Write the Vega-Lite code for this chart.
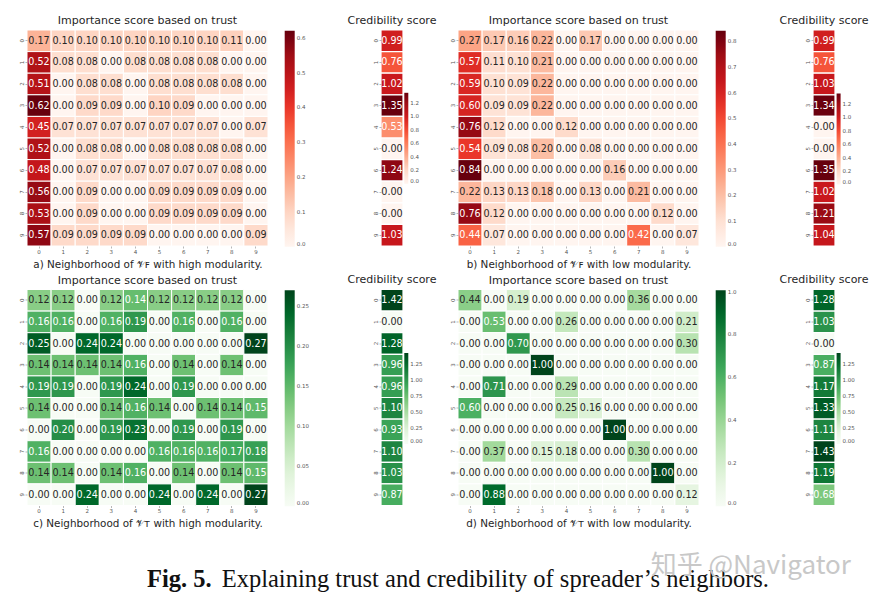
{
"$schema": "https://vega.github.io/schema/vega-lite/v6.json",
"background": "white",
"padding": {"left": 19, "top": 14, "right": 4, "bottom": 4},
"bounds": "flush",
"columns": 7,
"spacing": {"row": 43.5, "column": 0},
"config": {
  "view": {"stroke": null},
  "font": "DejaVu Sans",
  "scale": {"bandPaddingInner": 0, "bandPaddingOuter": 0, "rectBandPaddingInner": 0},
  "axis": {"domain": false, "grid": false, "tickSize": 2, "tickColor": "#888", "tickWidth": 0.6, "labelFontSize": 5.5, "labelColor": "#555", "labelPadding": 1, "labelFont": "DejaVu Sans", "titleFont": "DejaVu Sans", "titleFontSize": 10.4, "titleFontWeight": "normal", "titleColor": "#262626", "titlePadding": 4.5},
  "legend": {"labelFontSize": 5.5, "labelColor": "#555", "labelFont": "DejaVu Sans", "gradientStrokeWidth": 0, "labelOffset": 3, "labelOverlap": false},
  "title": {"font": "DejaVu Sans", "fontSize": 11, "fontWeight": "normal", "color": "#262626", "offset": 3.5},
  "text": {"font": "DejaVu Sans", "fontSize": 9.6}
},
"datasets": {
"a": [
{"r":0,"c":0,"v":0.17},{"r":0,"c":1,"v":0.10},{"r":0,"c":2,"v":0.10},{"r":0,"c":3,"v":0.10},{"r":0,"c":4,"v":0.10},{"r":0,"c":5,"v":0.10},{"r":0,"c":6,"v":0.10},{"r":0,"c":7,"v":0.10},{"r":0,"c":8,"v":0.11},{"r":0,"c":9,"v":0.00},
{"r":1,"c":0,"v":0.52},{"r":1,"c":1,"v":0.08},{"r":1,"c":2,"v":0.08},{"r":1,"c":3,"v":0.00},{"r":1,"c":4,"v":0.08},{"r":1,"c":5,"v":0.08},{"r":1,"c":6,"v":0.08},{"r":1,"c":7,"v":0.08},{"r":1,"c":8,"v":0.00},{"r":1,"c":9,"v":0.00},
{"r":2,"c":0,"v":0.51},{"r":2,"c":1,"v":0.00},{"r":2,"c":2,"v":0.08},{"r":2,"c":3,"v":0.08},{"r":2,"c":4,"v":0.00},{"r":2,"c":5,"v":0.08},{"r":2,"c":6,"v":0.08},{"r":2,"c":7,"v":0.08},{"r":2,"c":8,"v":0.08},{"r":2,"c":9,"v":0.00},
{"r":3,"c":0,"v":0.62},{"r":3,"c":1,"v":0.00},{"r":3,"c":2,"v":0.09},{"r":3,"c":3,"v":0.09},{"r":3,"c":4,"v":0.00},{"r":3,"c":5,"v":0.10},{"r":3,"c":6,"v":0.09},{"r":3,"c":7,"v":0.00},{"r":3,"c":8,"v":0.00},{"r":3,"c":9,"v":0.00},
{"r":4,"c":0,"v":0.45},{"r":4,"c":1,"v":0.07},{"r":4,"c":2,"v":0.07},{"r":4,"c":3,"v":0.07},{"r":4,"c":4,"v":0.07},{"r":4,"c":5,"v":0.07},{"r":4,"c":6,"v":0.07},{"r":4,"c":7,"v":0.07},{"r":4,"c":8,"v":0.00},{"r":4,"c":9,"v":0.07},
{"r":5,"c":0,"v":0.52},{"r":5,"c":1,"v":0.00},{"r":5,"c":2,"v":0.08},{"r":5,"c":3,"v":0.08},{"r":5,"c":4,"v":0.00},{"r":5,"c":5,"v":0.08},{"r":5,"c":6,"v":0.08},{"r":5,"c":7,"v":0.08},{"r":5,"c":8,"v":0.08},{"r":5,"c":9,"v":0.00},
{"r":6,"c":0,"v":0.48},{"r":6,"c":1,"v":0.00},{"r":6,"c":2,"v":0.07},{"r":6,"c":3,"v":0.07},{"r":6,"c":4,"v":0.07},{"r":6,"c":5,"v":0.07},{"r":6,"c":6,"v":0.07},{"r":6,"c":7,"v":0.07},{"r":6,"c":8,"v":0.08},{"r":6,"c":9,"v":0.00},
{"r":7,"c":0,"v":0.56},{"r":7,"c":1,"v":0.00},{"r":7,"c":2,"v":0.09},{"r":7,"c":3,"v":0.00},{"r":7,"c":4,"v":0.00},{"r":7,"c":5,"v":0.09},{"r":7,"c":6,"v":0.09},{"r":7,"c":7,"v":0.09},{"r":7,"c":8,"v":0.09},{"r":7,"c":9,"v":0.00},
{"r":8,"c":0,"v":0.53},{"r":8,"c":1,"v":0.00},{"r":8,"c":2,"v":0.09},{"r":8,"c":3,"v":0.00},{"r":8,"c":4,"v":0.00},{"r":8,"c":5,"v":0.09},{"r":8,"c":6,"v":0.09},{"r":8,"c":7,"v":0.09},{"r":8,"c":8,"v":0.09},{"r":8,"c":9,"v":0.00},
{"r":9,"c":0,"v":0.57},{"r":9,"c":1,"v":0.09},{"r":9,"c":2,"v":0.09},{"r":9,"c":3,"v":0.09},{"r":9,"c":4,"v":0.09},{"r":9,"c":5,"v":0.00},{"r":9,"c":6,"v":0.00},{"r":9,"c":7,"v":0.00},{"r":9,"c":8,"v":0.00},{"r":9,"c":9,"v":0.09}
],
"ca": [
{"r":0,"v":0.99},{"r":1,"v":0.76},{"r":2,"v":1.02},{"r":3,"v":1.35},{"r":4,"v":0.53},{"r":5,"v":0.00},{"r":6,"v":1.24},{"r":7,"v":0.00},{"r":8,"v":0.00},{"r":9,"v":1.03}
],
"b": [
{"r":0,"c":0,"v":0.27},{"r":0,"c":1,"v":0.17},{"r":0,"c":2,"v":0.16},{"r":0,"c":3,"v":0.22},{"r":0,"c":4,"v":0.00},{"r":0,"c":5,"v":0.17},{"r":0,"c":6,"v":0.00},{"r":0,"c":7,"v":0.00},{"r":0,"c":8,"v":0.00},{"r":0,"c":9,"v":0.00},
{"r":1,"c":0,"v":0.57},{"r":1,"c":1,"v":0.11},{"r":1,"c":2,"v":0.10},{"r":1,"c":3,"v":0.21},{"r":1,"c":4,"v":0.00},{"r":1,"c":5,"v":0.00},{"r":1,"c":6,"v":0.00},{"r":1,"c":7,"v":0.00},{"r":1,"c":8,"v":0.00},{"r":1,"c":9,"v":0.00},
{"r":2,"c":0,"v":0.59},{"r":2,"c":1,"v":0.10},{"r":2,"c":2,"v":0.09},{"r":2,"c":3,"v":0.22},{"r":2,"c":4,"v":0.00},{"r":2,"c":5,"v":0.00},{"r":2,"c":6,"v":0.00},{"r":2,"c":7,"v":0.00},{"r":2,"c":8,"v":0.00},{"r":2,"c":9,"v":0.00},
{"r":3,"c":0,"v":0.60},{"r":3,"c":1,"v":0.09},{"r":3,"c":2,"v":0.09},{"r":3,"c":3,"v":0.22},{"r":3,"c":4,"v":0.00},{"r":3,"c":5,"v":0.00},{"r":3,"c":6,"v":0.00},{"r":3,"c":7,"v":0.00},{"r":3,"c":8,"v":0.00},{"r":3,"c":9,"v":0.00},
{"r":4,"c":0,"v":0.76},{"r":4,"c":1,"v":0.12},{"r":4,"c":2,"v":0.00},{"r":4,"c":3,"v":0.00},{"r":4,"c":4,"v":0.12},{"r":4,"c":5,"v":0.00},{"r":4,"c":6,"v":0.00},{"r":4,"c":7,"v":0.00},{"r":4,"c":8,"v":0.00},{"r":4,"c":9,"v":0.00},
{"r":5,"c":0,"v":0.54},{"r":5,"c":1,"v":0.09},{"r":5,"c":2,"v":0.08},{"r":5,"c":3,"v":0.20},{"r":5,"c":4,"v":0.00},{"r":5,"c":5,"v":0.08},{"r":5,"c":6,"v":0.00},{"r":5,"c":7,"v":0.00},{"r":5,"c":8,"v":0.00},{"r":5,"c":9,"v":0.00},
{"r":6,"c":0,"v":0.84},{"r":6,"c":1,"v":0.00},{"r":6,"c":2,"v":0.00},{"r":6,"c":3,"v":0.00},{"r":6,"c":4,"v":0.00},{"r":6,"c":5,"v":0.00},{"r":6,"c":6,"v":0.16},{"r":6,"c":7,"v":0.00},{"r":6,"c":8,"v":0.00},{"r":6,"c":9,"v":0.00},
{"r":7,"c":0,"v":0.22},{"r":7,"c":1,"v":0.13},{"r":7,"c":2,"v":0.13},{"r":7,"c":3,"v":0.18},{"r":7,"c":4,"v":0.00},{"r":7,"c":5,"v":0.13},{"r":7,"c":6,"v":0.00},{"r":7,"c":7,"v":0.21},{"r":7,"c":8,"v":0.00},{"r":7,"c":9,"v":0.00},
{"r":8,"c":0,"v":0.76},{"r":8,"c":1,"v":0.12},{"r":8,"c":2,"v":0.00},{"r":8,"c":3,"v":0.00},{"r":8,"c":4,"v":0.00},{"r":8,"c":5,"v":0.00},{"r":8,"c":6,"v":0.00},{"r":8,"c":7,"v":0.00},{"r":8,"c":8,"v":0.12},{"r":8,"c":9,"v":0.00},
{"r":9,"c":0,"v":0.44},{"r":9,"c":1,"v":0.07},{"r":9,"c":2,"v":0.00},{"r":9,"c":3,"v":0.00},{"r":9,"c":4,"v":0.00},{"r":9,"c":5,"v":0.00},{"r":9,"c":6,"v":0.00},{"r":9,"c":7,"v":0.42},{"r":9,"c":8,"v":0.00},{"r":9,"c":9,"v":0.07}
],
"cb": [
{"r":0,"v":0.99},{"r":1,"v":0.76},{"r":2,"v":1.03},{"r":3,"v":1.34},{"r":4,"v":0.00},{"r":5,"v":0.00},{"r":6,"v":1.35},{"r":7,"v":1.02},{"r":8,"v":1.21},{"r":9,"v":1.04}
],
"c": [
{"r":0,"c":0,"v":0.12},{"r":0,"c":1,"v":0.12},{"r":0,"c":2,"v":0.00},{"r":0,"c":3,"v":0.12},{"r":0,"c":4,"v":0.145},{"r":0,"c":5,"v":0.12},{"r":0,"c":6,"v":0.12},{"r":0,"c":7,"v":0.12},{"r":0,"c":8,"v":0.12},{"r":0,"c":9,"v":0.00},
{"r":1,"c":0,"v":0.16},{"r":1,"c":1,"v":0.16},{"r":1,"c":2,"v":0.00},{"r":1,"c":3,"v":0.16},{"r":1,"c":4,"v":0.19},{"r":1,"c":5,"v":0.00},{"r":1,"c":6,"v":0.16},{"r":1,"c":7,"v":0.00},{"r":1,"c":8,"v":0.16},{"r":1,"c":9,"v":0.00},
{"r":2,"c":0,"v":0.25},{"r":2,"c":1,"v":0.00},{"r":2,"c":2,"v":0.24},{"r":2,"c":3,"v":0.24},{"r":2,"c":4,"v":0.00},{"r":2,"c":5,"v":0.00},{"r":2,"c":6,"v":0.00},{"r":2,"c":7,"v":0.00},{"r":2,"c":8,"v":0.00},{"r":2,"c":9,"v":0.27},
{"r":3,"c":0,"v":0.14},{"r":3,"c":1,"v":0.14},{"r":3,"c":2,"v":0.14},{"r":3,"c":3,"v":0.14},{"r":3,"c":4,"v":0.16},{"r":3,"c":5,"v":0.00},{"r":3,"c":6,"v":0.14},{"r":3,"c":7,"v":0.00},{"r":3,"c":8,"v":0.14},{"r":3,"c":9,"v":0.00},
{"r":4,"c":0,"v":0.19},{"r":4,"c":1,"v":0.19},{"r":4,"c":2,"v":0.00},{"r":4,"c":3,"v":0.19},{"r":4,"c":4,"v":0.24},{"r":4,"c":5,"v":0.00},{"r":4,"c":6,"v":0.19},{"r":4,"c":7,"v":0.00},{"r":4,"c":8,"v":0.00},{"r":4,"c":9,"v":0.00},
{"r":5,"c":0,"v":0.14},{"r":5,"c":1,"v":0.00},{"r":5,"c":2,"v":0.00},{"r":5,"c":3,"v":0.14},{"r":5,"c":4,"v":0.16},{"r":5,"c":5,"v":0.14},{"r":5,"c":6,"v":0.00},{"r":5,"c":7,"v":0.14},{"r":5,"c":8,"v":0.14},{"r":5,"c":9,"v":0.15},
{"r":6,"c":0,"v":0.00},{"r":6,"c":1,"v":0.20},{"r":6,"c":2,"v":0.00},{"r":6,"c":3,"v":0.19},{"r":6,"c":4,"v":0.23},{"r":6,"c":5,"v":0.00},{"r":6,"c":6,"v":0.19},{"r":6,"c":7,"v":0.00},{"r":6,"c":8,"v":0.19},{"r":6,"c":9,"v":0.00},
{"r":7,"c":0,"v":0.16},{"r":7,"c":1,"v":0.00},{"r":7,"c":2,"v":0.00},{"r":7,"c":3,"v":0.00},{"r":7,"c":4,"v":0.00},{"r":7,"c":5,"v":0.16},{"r":7,"c":6,"v":0.16},{"r":7,"c":7,"v":0.16},{"r":7,"c":8,"v":0.17},{"r":7,"c":9,"v":0.18},
{"r":8,"c":0,"v":0.14},{"r":8,"c":1,"v":0.14},{"r":8,"c":2,"v":0.00},{"r":8,"c":3,"v":0.14},{"r":8,"c":4,"v":0.16},{"r":8,"c":5,"v":0.00},{"r":8,"c":6,"v":0.14},{"r":8,"c":7,"v":0.00},{"r":8,"c":8,"v":0.14},{"r":8,"c":9,"v":0.15},
{"r":9,"c":0,"v":0.00},{"r":9,"c":1,"v":0.00},{"r":9,"c":2,"v":0.24},{"r":9,"c":3,"v":0.00},{"r":9,"c":4,"v":0.00},{"r":9,"c":5,"v":0.24},{"r":9,"c":6,"v":0.00},{"r":9,"c":7,"v":0.24},{"r":9,"c":8,"v":0.00},{"r":9,"c":9,"v":0.27}
],
"cc": [
{"r":0,"v":1.42},{"r":1,"v":0.00},{"r":2,"v":1.28},{"r":3,"v":0.96},{"r":4,"v":0.96},{"r":5,"v":1.10},{"r":6,"v":0.93},{"r":7,"v":1.10},{"r":8,"v":1.03},{"r":9,"v":0.87}
],
"d": [
{"r":0,"c":0,"v":0.44},{"r":0,"c":1,"v":0.00},{"r":0,"c":2,"v":0.19},{"r":0,"c":3,"v":0.00},{"r":0,"c":4,"v":0.00},{"r":0,"c":5,"v":0.00},{"r":0,"c":6,"v":0.00},{"r":0,"c":7,"v":0.36},{"r":0,"c":8,"v":0.00},{"r":0,"c":9,"v":0.00},
{"r":1,"c":0,"v":0.00},{"r":1,"c":1,"v":0.53},{"r":1,"c":2,"v":0.00},{"r":1,"c":3,"v":0.00},{"r":1,"c":4,"v":0.26},{"r":1,"c":5,"v":0.00},{"r":1,"c":6,"v":0.00},{"r":1,"c":7,"v":0.00},{"r":1,"c":8,"v":0.00},{"r":1,"c":9,"v":0.21},
{"r":2,"c":0,"v":0.00},{"r":2,"c":1,"v":0.00},{"r":2,"c":2,"v":0.70},{"r":2,"c":3,"v":0.00},{"r":2,"c":4,"v":0.00},{"r":2,"c":5,"v":0.00},{"r":2,"c":6,"v":0.00},{"r":2,"c":7,"v":0.00},{"r":2,"c":8,"v":0.00},{"r":2,"c":9,"v":0.30},
{"r":3,"c":0,"v":0.00},{"r":3,"c":1,"v":0.00},{"r":3,"c":2,"v":0.00},{"r":3,"c":3,"v":1.00},{"r":3,"c":4,"v":0.00},{"r":3,"c":5,"v":0.00},{"r":3,"c":6,"v":0.00},{"r":3,"c":7,"v":0.00},{"r":3,"c":8,"v":0.00},{"r":3,"c":9,"v":0.00},
{"r":4,"c":0,"v":0.00},{"r":4,"c":1,"v":0.71},{"r":4,"c":2,"v":0.00},{"r":4,"c":3,"v":0.00},{"r":4,"c":4,"v":0.29},{"r":4,"c":5,"v":0.00},{"r":4,"c":6,"v":0.00},{"r":4,"c":7,"v":0.00},{"r":4,"c":8,"v":0.00},{"r":4,"c":9,"v":0.00},
{"r":5,"c":0,"v":0.60},{"r":5,"c":1,"v":0.00},{"r":5,"c":2,"v":0.00},{"r":5,"c":3,"v":0.00},{"r":5,"c":4,"v":0.25},{"r":5,"c":5,"v":0.16},{"r":5,"c":6,"v":0.00},{"r":5,"c":7,"v":0.00},{"r":5,"c":8,"v":0.00},{"r":5,"c":9,"v":0.00},
{"r":6,"c":0,"v":0.00},{"r":6,"c":1,"v":0.00},{"r":6,"c":2,"v":0.00},{"r":6,"c":3,"v":0.00},{"r":6,"c":4,"v":0.00},{"r":6,"c":5,"v":0.00},{"r":6,"c":6,"v":1.00},{"r":6,"c":7,"v":0.00},{"r":6,"c":8,"v":0.00},{"r":6,"c":9,"v":0.00},
{"r":7,"c":0,"v":0.00},{"r":7,"c":1,"v":0.37},{"r":7,"c":2,"v":0.00},{"r":7,"c":3,"v":0.15},{"r":7,"c":4,"v":0.18},{"r":7,"c":5,"v":0.00},{"r":7,"c":6,"v":0.00},{"r":7,"c":7,"v":0.30},{"r":7,"c":8,"v":0.00},{"r":7,"c":9,"v":0.00},
{"r":8,"c":0,"v":0.00},{"r":8,"c":1,"v":0.00},{"r":8,"c":2,"v":0.00},{"r":8,"c":3,"v":0.00},{"r":8,"c":4,"v":0.00},{"r":8,"c":5,"v":0.00},{"r":8,"c":6,"v":0.00},{"r":8,"c":7,"v":0.00},{"r":8,"c":8,"v":1.00},{"r":8,"c":9,"v":0.00},
{"r":9,"c":0,"v":0.00},{"r":9,"c":1,"v":0.88},{"r":9,"c":2,"v":0.00},{"r":9,"c":3,"v":0.00},{"r":9,"c":4,"v":0.00},{"r":9,"c":5,"v":0.00},{"r":9,"c":6,"v":0.00},{"r":9,"c":7,"v":0.00},{"r":9,"c":8,"v":0.00},{"r":9,"c":9,"v":0.12}
],
"cd": [
{"r":0,"v":1.28},{"r":1,"v":1.03},{"r":2,"v":0.00},{"r":3,"v":0.87},{"r":4,"v":1.17},{"r":5,"v":1.33},{"r":6,"v":1.11},{"r":7,"v":1.43},{"r":8,"v":1.19},{"r":9,"v":0.68}
]
},
"concat": [
   {"width": 241, "height": 216, "data": {"name": "a"}, "title": "Importance score based on trust",
    "encoding": {"x": {"field": "c", "type": "ordinal", "axis": {"title": "a) Neighborhood of 𝒱ꜰ with high modularity.", "labelAngle": 0}},
                 "y": {"field": "r", "type": "ordinal", "axis": {"title": null, "labelAngle": 270}}},
    "layer": [
     {"mark": {"type": "rect", "stroke": "white", "strokeWidth": 1},
      "encoding": {"color": {"field": "v", "type": "quantitative",
        "scale": {"domain": [0, 0.0775, 0.155, 0.2325, 0.31, 0.3875, 0.465, 0.5425, 0.62], "range": ["#fff5f0", "#fee0d2", "#fcbba1", "#fc9272", "#fb6a4a", "#ef3b2c", "#cb181d", "#a50f15", "#67000d"]},
        "legend": {"orient": "none", "legendX": 257.7, "legendY": 0.8, "direction": "vertical", "gradientLength": 216, "gradientThickness": 10, "title": null, "values": [0, 0.1, 0.2, 0.3, 0.4, 0.5, 0.6], "format": ".1f"}}}},
     {"mark": {"type": "text"},
      "encoding": {"text": {"field": "v", "type": "quantitative", "format": ".2f"},
        "color": {"condition": {"test": "datum.v >= 0.3", "value": "white"}, "value": "#262626"}}}
    ]},
   {"width": 112.4, "height": 216, "data": {"values": []}, "mark": "point"},
   {"width": 22, "height": 216, "data": {"name": "ca"}, "title": "Credibility score",
    "encoding": {"y": {"field": "r", "type": "ordinal", "axis": {"title": null, "labelAngle": 270}}},
    "layer": [
     {"mark": {"type": "rect", "stroke": "white", "strokeWidth": 1.2},
      "encoding": {"color": {"field": "v", "type": "quantitative",
        "scale": {"domain": [0, 0.16875, 0.3375, 0.50625, 0.675, 0.84375, 1.0125, 1.18125, 1.35], "range": ["#fff5f0", "#fee0d2", "#fcbba1", "#fc9272", "#fb6a4a", "#ef3b2c", "#cb181d", "#a50f15", "#67000d"]},
        "legend": {"orient": "none", "legendX": 23.3, "legendY": 62.8, "direction": "vertical", "gradientLength": 91, "gradientThickness": 4, "title": null, "values": [0, 0.2, 0.4, 0.6, 0.8, 1.0, 1.2], "format": ".1f"}}}},
     {"mark": {"type": "text"},
      "encoding": {"text": {"field": "v", "type": "quantitative", "format": ".2f"},
        "color": {"condition": {"test": "datum.v > 0.3", "value": "white"}, "value": "#262626"}}}
    ]},
   {"width": 54.6, "height": 216, "data": {"values": []}, "mark": "point"},
   {"width": 241, "height": 216, "data": {"name": "b"}, "title": "Importance score based on trust",
    "encoding": {"x": {"field": "c", "type": "ordinal", "axis": {"title": "b) Neighborhood of 𝒱ꜰ with low modularity.", "labelAngle": 0}},
                 "y": {"field": "r", "type": "ordinal", "axis": {"title": null, "labelAngle": 270}}},
    "layer": [
     {"mark": {"type": "rect", "stroke": "white", "strokeWidth": 1},
      "encoding": {"color": {"field": "v", "type": "quantitative",
        "scale": {"domain": [0, 0.105, 0.21, 0.315, 0.42, 0.525, 0.63, 0.735, 0.84], "range": ["#fff5f0", "#fee0d2", "#fcbba1", "#fc9272", "#fb6a4a", "#ef3b2c", "#cb181d", "#a50f15", "#67000d"]},
        "legend": {"orient": "none", "legendX": 257.7, "legendY": 0.8, "direction": "vertical", "gradientLength": 216, "gradientThickness": 10, "title": null, "values": [0, 0.1, 0.2, 0.3, 0.4, 0.5, 0.6, 0.7, 0.8], "format": ".1f"}}}},
     {"mark": {"type": "text"},
      "encoding": {"text": {"field": "v", "type": "quantitative", "format": ".2f"},
        "color": {"condition": {"test": "datum.v >= 0.35", "value": "white"}, "value": "#262626"}}}
    ]},
   {"width": 113.4, "height": 216, "data": {"values": []}, "mark": "point"},
   {"width": 22, "height": 216, "data": {"name": "cb"}, "title": "Credibility score",
    "encoding": {"y": {"field": "r", "type": "ordinal", "axis": {"title": null, "labelAngle": 270}}},
    "layer": [
     {"mark": {"type": "rect", "stroke": "white", "strokeWidth": 1.2},
      "encoding": {"color": {"field": "v", "type": "quantitative",
        "scale": {"domain": [0, 0.16875, 0.3375, 0.50625, 0.675, 0.84375, 1.0125, 1.18125, 1.35], "range": ["#fff5f0", "#fee0d2", "#fcbba1", "#fc9272", "#fb6a4a", "#ef3b2c", "#cb181d", "#a50f15", "#67000d"]},
        "legend": {"orient": "none", "legendX": 23.6, "legendY": 63.5, "direction": "vertical", "gradientLength": 91, "gradientThickness": 4, "title": null, "values": [0, 0.2, 0.4, 0.6, 0.8, 1.0, 1.2], "format": ".1f"}}}},
     {"mark": {"type": "text"},
      "encoding": {"text": {"field": "v", "type": "quantitative", "format": ".2f"},
        "color": {"condition": {"test": "datum.v > 0.3", "value": "white"}, "value": "#262626"}}}
    ]},
   {"width": 241, "height": 216, "data": {"name": "c"}, "title": "Importance score based on trust",
    "encoding": {"x": {"field": "c", "type": "ordinal", "axis": {"title": "c) Neighborhood of 𝒱ᴛ with high modularity.", "labelAngle": 0}},
                 "y": {"field": "r", "type": "ordinal", "axis": {"title": null, "labelAngle": 270}}},
    "layer": [
     {"mark": {"type": "rect", "stroke": "white", "strokeWidth": 1},
      "encoding": {"color": {"field": "v", "type": "quantitative",
        "scale": {"domain": [0, 0.03375, 0.0675, 0.10125, 0.135, 0.16875, 0.2025, 0.23625, 0.27], "range": ["#f7fcf5", "#e5f5e0", "#c7e9c0", "#a1d99b", "#74c476", "#41ab5d", "#238b45", "#006d2c", "#00441b"]},
        "legend": {"orient": "none", "legendX": 257.7, "legendY": 0.8, "direction": "vertical", "gradientLength": 216, "gradientThickness": 10, "title": null, "values": [0, 0.05, 0.1, 0.15, 0.2, 0.25], "format": ".2f"}}}},
     {"mark": {"type": "text"},
      "encoding": {"text": {"field": "v", "type": "quantitative", "format": ".2f"},
        "color": {"condition": {"test": "datum.v >= 0.145", "value": "white"}, "value": "#262626"}}}
    ]},
   {"width": 112.4, "height": 216, "data": {"values": []}, "mark": "point"},
   {"width": 22, "height": 216, "data": {"name": "cc"}, "title": "Credibility score",
    "encoding": {"y": {"field": "r", "type": "ordinal", "axis": {"title": null, "labelAngle": 270}}},
    "layer": [
     {"mark": {"type": "rect", "stroke": "white", "strokeWidth": 1.2},
      "encoding": {"color": {"field": "v", "type": "quantitative",
        "scale": {"domain": [0, 0.1775, 0.355, 0.5325, 0.71, 0.8875, 1.065, 1.2425, 1.42], "range": ["#f7fcf5", "#e5f5e0", "#c7e9c0", "#a1d99b", "#74c476", "#41ab5d", "#238b45", "#006d2c", "#00441b"]},
        "legend": {"orient": "none", "legendX": 23.3, "legendY": 63.5, "direction": "vertical", "gradientLength": 91, "gradientThickness": 4, "title": null, "values": [0, 0.25, 0.5, 0.75, 1.0, 1.25], "format": ".2f"}}}},
     {"mark": {"type": "text"},
      "encoding": {"text": {"field": "v", "type": "quantitative", "format": ".2f"},
        "color": {"condition": {"test": "datum.v > 0.3", "value": "white"}, "value": "#262626"}}}
    ]},
   {"width": 54.6, "height": 216, "data": {"values": []}, "mark": "point"},
   {"width": 241, "height": 216, "data": {"name": "d"}, "title": "Importance score based on trust",
    "encoding": {"x": {"field": "c", "type": "ordinal", "axis": {"title": "d) Neighborhood of 𝒱ᴛ with low modularity.", "labelAngle": 0}},
                 "y": {"field": "r", "type": "ordinal", "axis": {"title": null, "labelAngle": 270}}},
    "layer": [
     {"mark": {"type": "rect", "stroke": "white", "strokeWidth": 1},
      "encoding": {"color": {"field": "v", "type": "quantitative",
        "scale": {"domain": [0, 0.125, 0.25, 0.375, 0.5, 0.625, 0.75, 0.875, 1.0], "range": ["#f7fcf5", "#e5f5e0", "#c7e9c0", "#a1d99b", "#74c476", "#41ab5d", "#238b45", "#006d2c", "#00441b"]},
        "legend": {"orient": "none", "legendX": 257.7, "legendY": 0.8, "direction": "vertical", "gradientLength": 216, "gradientThickness": 10, "title": null, "values": [0, 0.2, 0.4, 0.6, 0.8, 1.0], "format": ".1f"}}}},
     {"mark": {"type": "text"},
      "encoding": {"text": {"field": "v", "type": "quantitative", "format": ".2f"},
        "color": {"condition": {"test": "datum.v >= 0.5", "value": "white"}, "value": "#262626"}}}
    ]},
   {"width": 113.4, "height": 216, "data": {"values": []}, "mark": "point"},
   {"width": 22, "height": 216, "data": {"name": "cd"}, "title": "Credibility score",
    "encoding": {"y": {"field": "r", "type": "ordinal", "axis": {"title": null, "labelAngle": 270}}},
    "layer": [
     {"mark": {"type": "rect", "stroke": "white", "strokeWidth": 1.2},
      "encoding": {"color": {"field": "v", "type": "quantitative",
        "scale": {"domain": [0, 0.17875, 0.3575, 0.53625, 0.715, 0.89375, 1.0725, 1.25125, 1.43], "range": ["#f7fcf5", "#e5f5e0", "#c7e9c0", "#a1d99b", "#74c476", "#41ab5d", "#238b45", "#006d2c", "#00441b"]},
        "legend": {"orient": "none", "legendX": 23.6, "legendY": 63.5, "direction": "vertical", "gradientLength": 91, "gradientThickness": 4, "title": null, "values": [0, 0.25, 0.5, 0.75, 1.0, 1.25], "format": ".2f"}}}},
     {"mark": {"type": "text"},
      "encoding": {"text": {"field": "v", "type": "quantitative", "format": ".2f"},
        "color": {"condition": {"test": "datum.v > 0.3", "value": "white"}, "value": "#262626"}}}
    ]},
   {"width": 241, "height": 38, "data": {"values": []}, "mark": "point",
    "title": {"text": "Fig. 5.", "orient": "bottom", "anchor": "end", "dx": -56.3, "font": "Liberation Serif", "fontSize": 24.5, "fontWeight": "bold", "color": "#111", "offset": 0, "baseline": "alphabetic"}},
   {"width": 112.4, "height": 38, "data": {"values": []}, "mark": "point",
    "title": {"text": "Explaining trust and credibility of spreader’s neighbors.", "orient": "bottom", "anchor": "start", "dx": -46.3, "font": "Liberation Serif", "fontSize": 24.5, "fontWeight": "normal", "color": "#111", "offset": 0, "baseline": "alphabetic"}},
   {"width": 22, "height": 38, "data": {"values": []}, "mark": "point"},
   {"width": 54.6, "height": 38, "data": {"values": []}, "mark": "point"},
   {"width": 241, "height": 38, "data": {"values": []}, "mark": "point",
    "title": {"text": "知乎 @Navigator", "orient": "bottom", "anchor": "start", "dx": 192.7, "dy": -13, "font": "Noto Sans CJK SC", "fontSize": 26, "fontWeight": "normal", "color": "#c8c8c8", "offset": 0, "baseline": "alphabetic"}}
],
"resolve": {"scale": {"color": "independent"}}
}
